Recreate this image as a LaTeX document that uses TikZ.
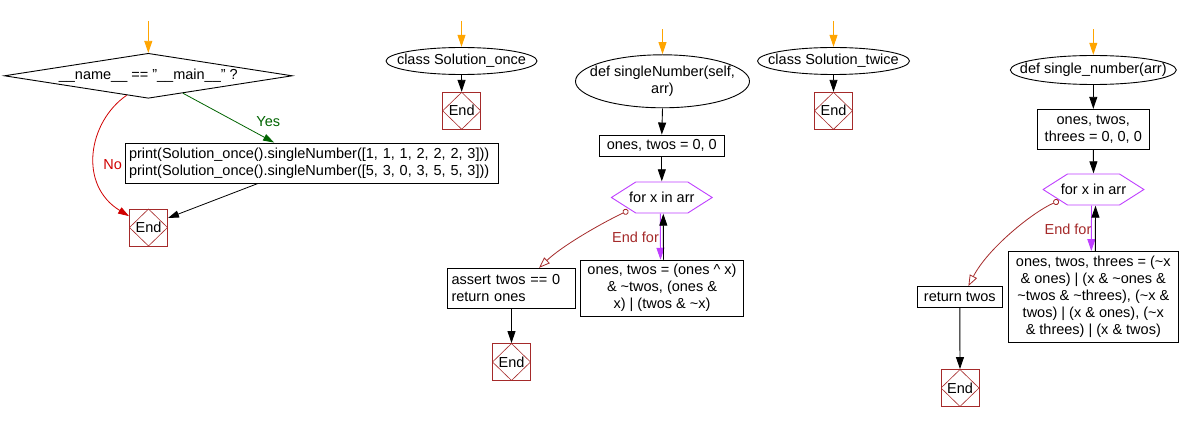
\documentclass[tikz,border=0pt]{standalone}
\usepackage{fontspec}
\setmainfont{Liberation Sans}
\usetikzlibrary{shapes.geometric,arrows.meta,calc}
\definecolor{orng}{HTML}{FFA500}
\definecolor{yesg}{HTML}{006400}
\definecolor{nor}{HTML}{D00000}
\definecolor{endc}{HTML}{A52A2A}
\definecolor{loopc}{HTML}{BF3FFF}
\tikzset{
  every node/.style={font=\fontsize{14.5}{17}\selectfont, inner sep=0pt},
  proc/.style={draw, rectangle, line width=0.9pt, align=center},
  lproc/.style={draw, rectangle, line width=0.9pt, align=left, inner sep=4pt},
  term/.style n args={2}{rectangle, align=center, minimum width=#1pt, minimum height=#2pt,
    path picture={\draw[black, line width=0.9pt] (path picture bounding box.center) ellipse [x radius=#1/2-0.5, y radius=#2/2-0.5];}},
  decis/.style={draw, diamond, line width=0.9pt, aspect=6.4},
  endbox/.style={draw=endc, line width=0.9pt, minimum width=38pt, minimum height=37pt,
    path picture={\draw[endc, line width=0.6pt] (path picture bounding box.north) -- (path picture bounding box.east) -- (path picture bounding box.south) -- (path picture bounding box.west) -- cycle;}},
  loopbox/.style={rectangle, minimum width=102pt, minimum height=32pt,
    path picture={\draw[loopc, line width=0.9pt] ($(path picture bounding box.west)+(0.6,0)$) -- ($(path picture bounding box.north west)+(25,0.5)$) -- ($(path picture bounding box.north east)+(-25,0.5)$) -- ($(path picture bounding box.east)+(-0.6,0)$) -- ($(path picture bounding box.south east)+(-25,-0.5)$) -- ($(path picture bounding box.south west)+(25,-0.5)$) -- cycle;}},
  startarr/.style={draw=orng, line width=0.9pt, -{Triangle[length=12pt,width=8pt,fill=orng]}},
  flow/.style={draw=black, line width=0.9pt, -{Triangle[length=12pt,width=8pt]}},
  thinflow/.style={draw=black, line width=0.8pt, -{Triangle[length=11pt,width=7pt]}},
  yesarr/.style={draw=yesg, line width=0.8pt, -{Triangle[length=11pt,width=7pt,fill=yesg]}},
  noarr/.style={draw=nor, line width=0.8pt, -{Triangle[length=11pt,width=7pt,fill=nor]}},
  looparr/.style={draw=loopc, line width=0.9pt, -{Triangle[length=12pt,width=8pt,fill=loopc]}},
  endforarr/.style={draw=endc, line width=0.8pt, {Circle[open,length=6pt,width=6pt]}-{Triangle[open,length=11pt,width=8pt]}},
  lbl/.style={font=\fontsize{14.5}{17}\selectfont}
}
\begin{document}
\begin{tikzpicture}[x=1pt,y=-1pt]
\useasboundingbox[fill=white] (0,0) rectangle (1181,422);

% ---------- flow 1 ----------
\coordinate (st1) at (148.3,21);
\node[decis, minimum width=288pt, minimum height=45pt] (dec) at (148.3,75.8) {\_\_name\_\_ == "\_\_main\_\_" ?};
\node[lproc, text width=365pt, minimum height=40pt] (pb) at (311.5,163) {print(Solution\_once().singleNumber([1, 1, 1, 2, 2, 2, 3]))\\print(Solution\_once().singleNumber([5, 3, 0, 3, 5, 5, 3]))};
\node[endbox] (end1) at (148.5,227.5) {End};
\node[lbl, text=yesg] (yes) at (268.3,121.7) {Yes};
\node[lbl, text=nor] (no) at (112.7,165) {No};
\draw[startarr] (st1) -- (dec.north);
\draw[yesarr] ($(dec.south)!0.24!(dec.east)$) -- ($(pb.north west)!0.40!(pb.north east)$);
\coordinate (nos) at ($(dec.south)!0.15!(dec.west)$);
\coordinate (noe) at ($(end1.north west)!0.2!(end1.south west)$);
\draw[noarr] (nos) .. controls (88,122) and (78,185) .. (noe);
\draw[thinflow] ($(pb.south west)!0.357!(pb.south east)$) -- ($(end1.north east)!0.25!(end1.south east)$);

% ---------- flow 2 ----------
\coordinate (st2) at (461.5,21);
\node[term={152}{28}] (c1) at (461.5,61) {class Solution\_once};
\node[endbox] (end2) at (461.7,110.8) {End};
\draw[startarr] (st2) -- (c1.north);
\draw[flow] (c1.south) -- (end2.north);

% ---------- flow 3 ----------
\coordinate (st3) at (662.5,29.5);
\node[term={175}{54}] (def1) at (662.5,81.3) {def singleNumber(self,\\arr)};
\node[proc, minimum width=125pt, minimum height=21pt] (init1) at (661.8,145.5) {ones, twos = 0, 0};
\node[loopbox] (hex1) at (661.8,197.5) {for x in arr};
\node[proc, minimum width=163pt, minimum height=56pt] (body1) at (662,288.2) {ones, twos = (ones \textasciicircum{} x)\\\& \textasciitilde{}twos, (ones \&\\x) | (twos \& \textasciitilde{}x)};
\node[lproc, text width=120pt, minimum height=40pt] (ret1) at (511.5,288.3) {assert twos == 0\\return ones};
\node[endbox] (end3) at (511.5,362) {End};
\node[lbl, text=endc] (ef1) at (635.5,237) {End for};
\draw[startarr] (st3) -- (def1.north);
\draw[flow] (def1.south) -- (init1.north);
\draw[flow] (init1.south) -- (hex1.north);
\draw[looparr] ($(hex1.south)+(-1.5,0)$) -- ($(body1.north)+(-1.5,0)$);
\draw[flow] ($(body1.north)+(1.5,0)$) -- ($(hex1.south)+(1.5,0)$);
\coordinate (ef1s) at ($(hex1.center)+(-33.5,13)$);
\coordinate (ef1e) at ($(ret1.north west)!0.714!(ret1.north east)$);
\draw[endforarr] (ef1s) .. controls (600,224) and (562,246) .. (ef1e);
\draw[flow] (ret1.south) -- (end3.north);

% ---------- flow 4 ----------
\coordinate (st4) at (833.5,21);
\node[term={153}{28}] (c2) at (833.5,61) {class Solution\_twice};
\node[endbox] (end4) at (833.5,110.8) {End};
\draw[startarr] (st4) -- (c2.north);
\draw[flow] (c2.south) -- (end4.north);

% ---------- flow 5 ----------
\coordinate (st5) at (1093.3,29.5);
\node[term={167}{30}] (def2) at (1093.3,70) {def single\_number(arr)};
\node[proc, minimum width=112pt, minimum height=40pt] (init2) at (1093.3,129.3) {ones, twos,\\threes = 0, 0, 0};
\node[loopbox] (hex2) at (1093.5,189.5) {for x in arr};
\node[proc, minimum width=170pt, minimum height=91pt] (body2) at (1093.3,297) {ones, twos, threes = (\textasciitilde{}x\\\& ones) | (x \& \textasciitilde{}ones \&\\\textasciitilde{}twos \& \textasciitilde{}threes), (\textasciitilde{}x \&\\twos) | (x \& ones), (\textasciitilde{}x\\\& threes) | (x \& twos)};
\node[proc, minimum width=85pt, minimum height=21pt] (ret2) at (959.8,297) {return twos};
\node[endbox] (end5) at (960,388) {End};
\node[lbl, text=endc] (ef2) at (1068,229) {End for};
\draw[startarr] (st5) -- (def2.north);
\draw[flow] (def2.south) -- (init2.north);
\draw[flow] (init2.south) -- (hex2.north);
\draw[looparr] ($(hex2.south)+(-2,0)$) -- ($(body2.north)+(-2,0)$);
\draw[flow] ($(body2.north)+(2,0)$) -- ($(hex2.south)+(2,0)$);
\coordinate (ef2s) at ($(hex2.center)+(-34.7,11.3)$);
\coordinate (ef2e) at ($(ret2.north west)!0.6!(ret2.north east)$);
\draw[endforarr] (ef2s) .. controls (1033,212) and (988,248) .. (ef2e);
\draw[flow] (ret2.south) -- (end5.north);
\end{tikzpicture}
\end{document}
